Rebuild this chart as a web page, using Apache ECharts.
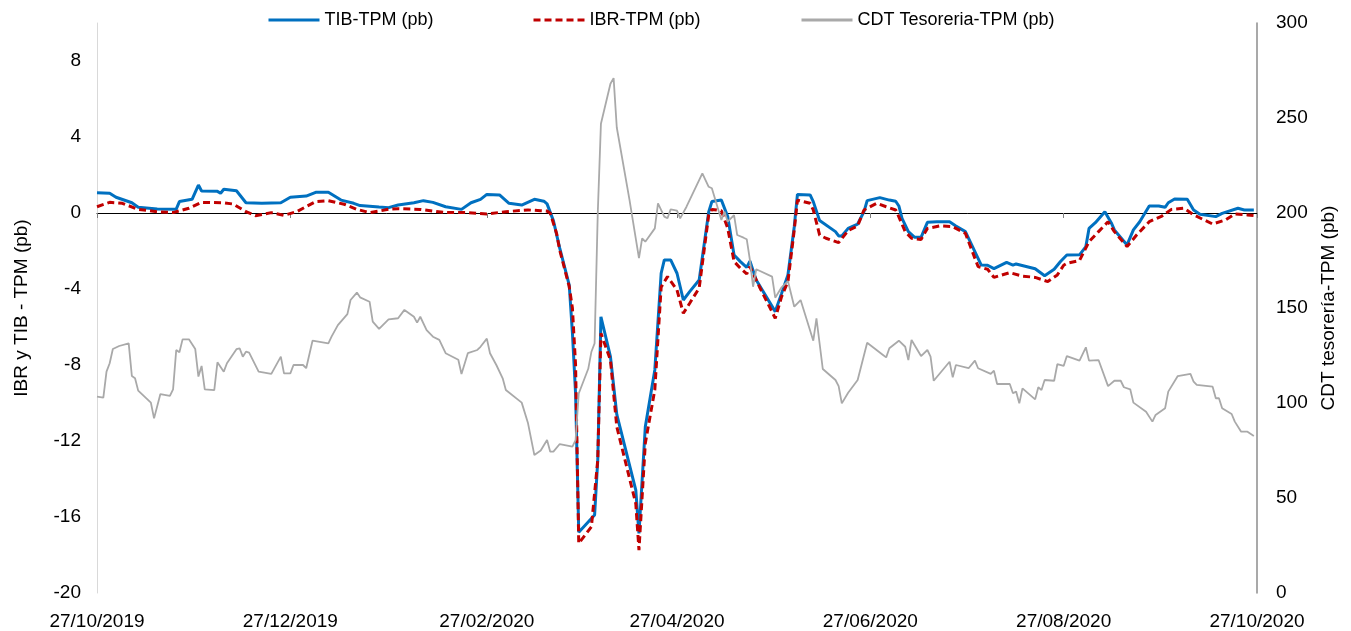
<!DOCTYPE html>
<html>
<head>
<meta charset="utf-8">
<script src="https://cdn.jsdelivr.net/npm/echarts@6/dist/echarts.min.js"></script>
<style>
html,body{margin:0;padding:0;background:#fff;}
#chart{width:1351px;height:631px;}
</style>
</head>
<body>
<div id="chart"></div>
<script>
// ---- Data ----
var seriesNames = ['TIB-TPM (pb)', 'IBR-TPM (pb)', 'CDT Tesoreria-TPM (pb)'];
var tickDates = ['2019-10-27','2019-12-27','2020-02-27','2020-04-27','2020-06-27','2020-08-27','2020-10-27'];
var leftTicks = {min: -20, max: 10, interval: 4};
var rightTicks = {min: 0, max: 300, interval: 50};

var tibData = [
['2019-10-27',1.07],['2019-10-31',1.04],['2019-11-02',0.83],['2019-11-07',0.54],['2019-11-09',0.30],
['2019-11-15',0.21],['2019-11-21',0.20],['2019-11-22',0.60],['2019-11-26',0.72],['2019-11-28',1.47],
['2019-11-29',1.16],['2019-12-04',1.14],['2019-12-05',1.04],['2019-12-06',1.25],['2019-12-10',1.17],
['2019-12-13',0.54],['2019-12-18',0.51],['2019-12-24',0.54],['2019-12-27',0.83],['2020-01-01',0.89],
['2020-01-04',1.09],['2020-01-08',1.09],['2020-01-12',0.68],['2020-01-16',0.51],['2020-01-18',0.39],
['2020-01-24',0.31],['2020-01-27',0.28],['2020-01-30',0.42],['2020-02-04',0.54],['2020-02-07',0.65],
['2020-02-10',0.56],['2020-02-14',0.33],['2020-02-19',0.19],['2020-02-22',0.54],['2020-02-25',0.72],
['2020-02-27',0.98],['2020-03-02',0.95],['2020-03-05',0.51],['2020-03-09',0.42],['2020-03-13',0.72],
['2020-03-16',0.62],['2020-03-17',0.48],['2020-03-19',-0.40],['2020-03-21',-1.85],['2020-03-24',-3.80],
['2020-03-25',-6.3],['2020-03-26',-9.5],['2020-03-27',-16.8],['2020-04-01',-15.9],['2020-04-02',-13.0],
['2020-04-03',-5.46],['2020-04-06',-7.56],['2020-04-08',-10.6],['2020-04-14',-14.58],['2020-04-15',-16.86],
['2020-04-17',-11.25],['2020-04-20',-8.26],['2020-04-22',-3.17],['2020-04-23',-2.47],['2020-04-25',-2.47],
['2020-04-27',-3.17],['2020-04-29',-4.58],['2020-05-01',-4.14],['2020-05-04',-3.53],['2020-05-07',0.05],
['2020-05-08',0.60],['2020-05-11',0.68],['2020-05-13',-0.19],['2020-05-15',-2.21],['2020-05-17',-2.56],
['2020-05-19',-2.86],['2020-05-20',-2.53],['2020-05-22',-3.53],['2020-05-28',-5.19],['2020-05-30',-4.23],
['2020-06-01',-3.26],['2020-06-03',-0.72],['2020-06-04',0.98],['2020-06-08',0.95],['2020-06-09',0.60],
['2020-06-11',-0.40],['2020-06-16',-0.98],['2020-06-17',-1.21],['2020-06-18',-1.21],['2020-06-20',-0.81],
['2020-06-23',-0.58],['2020-06-25',0.07],['2020-06-26',0.65],['2020-06-30',0.81],['2020-07-03',0.68],
['2020-07-05',0.62],['2020-07-06',0.37],['2020-07-07',-0.28],['2020-07-09',-0.98],['2020-07-11',-1.28],
['2020-07-13',-1.28],['2020-07-15',-0.49],['2020-07-18',-0.46],['2020-07-22',-0.46],['2020-07-24',-0.68],
['2020-07-27',-0.98],['2020-08-01',-2.74],['2020-08-03',-2.75],['2020-08-05',-2.93],['2020-08-09',-2.60],
['2020-08-11',-2.74],['2020-08-12',-2.68],['2020-08-18',-2.93],['2020-08-21',-3.30],['2020-08-24',-2.96],
['2020-08-26',-2.55],['2020-08-28',-2.21],['2020-09-01',-2.20],['2020-09-03',-1.77],['2020-09-04',-0.81],
['2020-09-06',-0.51],['2020-09-09',0.07],['2020-09-11',-0.51],['2020-09-12',-0.89],['2020-09-16',-1.68],
['2020-09-18',-0.89],['2020-09-20',-0.46],['2020-09-23',0.37],['2020-09-26',0.37],['2020-09-28',0.30],
['2020-09-29',0.54],['2020-10-01',0.74],['2020-10-05',0.72],['2020-10-07',0.16],['2020-10-09',-0.07],
['2020-10-14',-0.19],['2020-10-16',-0.02],['2020-10-21',0.25],['2020-10-23',0.16],['2020-10-26',0.16]
];

var ibrData = [
['2019-10-27',0.33],['2019-10-31',0.56],['2019-11-04',0.51],['2019-11-09',0.19],['2019-11-15',0.07],
['2019-11-20',0.02],['2019-11-25',0.25],['2019-11-29',0.56],['2019-12-06',0.54],['2019-12-09',0.47],
['2019-12-13',0.07],['2019-12-16',-0.14],['2019-12-21',0.02],['2019-12-25',-0.12],['2019-12-29',0.07],
['2020-01-04',0.60],['2020-01-08',0.65],['2020-01-13',0.46],['2020-01-17',0.19],['2020-01-21',0.02],
['2020-01-24',0.10],['2020-01-27',0.20],['2020-01-30',0.23],['2020-02-06',0.19],['2020-02-14',0.02],
['2020-02-21',0.02],['2020-02-27',-0.05],['2020-03-04',0.07],['2020-03-11',0.16],['2020-03-15',0.12],
['2020-03-17',0.10],['2020-03-18',0.00],['2020-03-20',-1.07],['2020-03-21',-1.95],['2020-03-24',-3.88],
['2020-03-25',-5.0],['2020-03-26',-8.0],['2020-03-27',-17.39],['2020-03-31',-16.51],['2020-04-02',-13.0],
['2020-04-03',-6.33],['2020-04-06',-7.74],['2020-04-08',-11.25],['2020-04-14',-15.3],['2020-04-15',-17.74],
['2020-04-17',-12.12],['2020-04-20',-9.3],['2020-04-22',-3.9],['2020-04-24',-3.35],['2020-04-27',-4.05],
['2020-04-29',-5.28],['2020-05-01',-4.75],['2020-05-04',-3.95],['2020-05-07',-0.10],['2020-05-08',0.19],
['2020-05-11',0.12],['2020-05-13',-0.80],['2020-05-15',-2.55],['2020-05-17',-2.91],['2020-05-19',-3.21],
['2020-05-20',-2.82],['2020-05-23',-3.88],['2020-05-28',-5.54],['2020-05-30',-4.40],['2020-06-01',-3.61],
['2020-06-03',-0.89],['2020-06-04',0.68],['2020-06-08',0.51],['2020-06-09',0.16],['2020-06-11',-1.16],
['2020-06-13',-1.33],['2020-06-17',-1.56],['2020-06-20',-0.93],['2020-06-23',-0.68],['2020-06-25',0.16],
['2020-06-29',0.51],['2020-07-02',0.33],['2020-07-05',0.16],['2020-07-06',-0.20],['2020-07-08',-0.98],
['2020-07-10',-1.33],['2020-07-13',-1.39],['2020-07-15',-0.81],['2020-07-19',-0.68],['2020-07-23',-0.72],
['2020-07-27',-1.07],['2020-07-31',-2.82],['2020-08-03',-2.96],['2020-08-05',-3.39],['2020-08-10',-3.14],
['2020-08-14',-3.32],['2020-08-18',-3.39],['2020-08-22',-3.61],['2020-08-25',-3.26],['2020-08-27',-2.75],
['2020-08-28',-2.65],['2020-09-01',-2.50],['2020-09-04',-1.51],['2020-09-07',-0.98],['2020-09-10',-0.46],
['2020-09-12',-0.98],['2020-09-16',-1.77],['2020-09-19',-1.16],['2020-09-23',-0.46],['2020-09-27',-0.16],
['2020-09-30',0.19],['2020-10-04',0.25],['2020-10-07',-0.10],['2020-10-13',-0.58],['2020-10-17',-0.37],
['2020-10-20',-0.05],['2020-10-24',-0.10],['2020-10-27',-0.15]
];

var cdtData = [
['2019-10-27',103.3],['2019-10-29',102.8],['2019-10-30',116.5],['2019-10-31',120.9],['2019-11-01',128.4],
['2019-11-03',130],['2019-11-06',131.4],['2019-11-07',114.2],['2019-11-08',113],['2019-11-09',106.5],
['2019-11-13',100.2],['2019-11-14',91.9],['2019-11-16',104.7],['2019-11-19',103.7],['2019-11-20',107.2],
['2019-11-21',127.9],['2019-11-22',126.7],['2019-11-23',133.5],['2019-11-25',133.5],['2019-11-27',128.4],
['2019-11-28',113.9],['2019-11-29',119.5],['2019-11-30',107.2],['2019-12-03',106.8],['2019-12-04',121.4],
['2019-12-06',116.5],['2019-12-07',120.9],['2019-12-10',128.3],['2019-12-11',128.8],['2019-12-12',124.4],
['2019-12-13',127],['2019-12-14',126.5],['2019-12-17',116.5],['2019-12-21',115.3],['2019-12-24',124.4],
['2019-12-25',115.6],['2019-12-27',115.6],['2019-12-28',120],['2019-12-31',120],['2020-01-01',118.3],
['2020-01-03',132.8],['2020-01-08',131.4],['2020-01-09',134.9],['2020-01-11',141],['2020-01-14',146.8],
['2020-01-15',154.2],['2020-01-17',158.1],['2020-01-18',155.6],['2020-01-21',153.3],['2020-01-22',142.8],
['2020-01-24',139],['2020-01-27',144],['2020-01-30',144.6],['2020-02-01',149],['2020-02-04',145.4],
['2020-02-05',142.3],['2020-02-06',145.4],['2020-02-08',138.4],['2020-02-10',134.9],['2020-02-12',133.2],
['2020-02-14',126.2],['2020-02-18',122.8],['2020-02-19',115.3],['2020-02-21',126.2],['2020-02-24',127.9],
['2020-02-25',129.6],['2020-02-27',133.9],['2020-02-28',126.2],['2020-03-01',120],['2020-03-03',113],
['2020-03-04',106.8],['2020-03-09',100.2],['2020-03-11',89.3],['2020-03-13',72.6],['2020-03-15',75],
['2020-03-17',80.5],['2020-03-18',74.4],['2020-03-19',74.4],['2020-03-21',78.4],['2020-03-25',77],
['2020-03-26',80.5],['2020-03-27',105],['2020-03-30',118],['2020-03-31',127],['2020-04-01',131.4],
['2020-04-02',200],['2020-04-03',247],['2020-04-06',268],['2020-04-07',271],['2020-04-08',245],
['2020-04-12',207],['2020-04-15',176.2],['2020-04-16',186.7],['2020-04-17',184.9],['2020-04-20',191.9],
['2020-04-21',205.1],['2020-04-23',198.1],['2020-04-24',197.2],['2020-04-25',201.9],['2020-04-27',201.2],
['2020-04-28',197.2],['2020-04-30',203.3],['2020-05-05',220.9],['2020-05-07',213.8],['2020-05-08',213],
['2020-05-11',196.3],['2020-05-12',200.7],['2020-05-13',195.4],['2020-05-15',198.9],['2020-05-16',188.4],
['2020-05-18',187],['2020-05-19',186.2],['2020-05-20',175.3],['2020-05-21',161.2],['2020-05-22',170.4],
['2020-05-27',166.5],['2020-05-28',155.4],['2020-05-30',160.9],['2020-06-01',164.2],['2020-06-03',150.7],
['2020-06-05',154.2],['2020-06-09',132.8],['2020-06-10',144.6],['2020-06-12',117.9],['2020-06-16',112.1],
['2020-06-17',108.9],['2020-06-18',99.8],['2020-06-20',105.4],['2020-06-23',112.1],['2020-06-26',131.7],
['2020-07-01',125.3],['2020-07-02',124],['2020-07-03',128.8],['2020-07-06',132.8],['2020-07-08',129.6],
['2020-07-09',122.6],['2020-07-10',133.2],['2020-07-13',124.7],['2020-07-15',127.9],['2020-07-16',124.4],
['2020-07-17',111.7],['2020-07-22',121.7],['2020-07-23',113.5],['2020-07-24',120],['2020-07-28',118.3],
['2020-07-30',122.3],['2020-07-31',118.3],['2020-08-04',115.3],['2020-08-05',117],['2020-08-06',110],
['2020-08-10',110],['2020-08-11',105.1],['2020-08-12',106],['2020-08-13',99.8],['2020-08-14',107.7],
['2020-08-18',101.9],['2020-08-19',108.3],['2020-08-20',106.8],['2020-08-21',112.1],['2020-08-24',111.7],
['2020-08-25',120.4],['2020-08-27',119.5],['2020-08-28',124.7],['2020-09-01',122.3],['2020-09-03',129.3],
['2020-09-04',122.3],['2020-09-07',122.6],['2020-09-10',108.9],['2020-09-12',111.7],['2020-09-14',111.7],
['2020-09-15',108.3],['2020-09-17',107.2],['2020-09-18',100.2],['2020-09-22',95.4],['2020-09-24',90.2],
['2020-09-25',93.7],['2020-09-28',97.2],['2020-09-29',106],['2020-10-02',114.2],['2020-10-06',115.3],
['2020-10-07',111.2],['2020-10-08',109.5],['2020-10-13',108.6],['2020-10-14',102.5],['2020-10-15',102.5],
['2020-10-16',97.2],['2020-10-19',94.2],['2020-10-20',90.2],['2020-10-22',84.9],['2020-10-24',84.9],
['2020-10-26',82.6]
];

// ---- Helpers ----
function toTs(s) {
  var p = s.split('-');
  return Date.UTC(+p[0], +p[1] - 1, +p[2]);
}
function pad(n) { return (n < 10 ? '0' : '') + n; }
function fmtDate(v) {
  var d = new Date(Math.round(v / 86400000) * 86400000);
  return pad(d.getUTCDate()) + '/' + pad(d.getUTCMonth() + 1) + '/' + d.getUTCFullYear();
}
function conv(arr) { return arr.map(function (p) { return [toTs(p[0]), p[1]]; }); }

var tickTs = tickDates.map(toTs);
var xMin = tickTs[0], xMax = tickTs[tickTs.length - 1];
var FONT = "'Liberation Sans', Arial, sans-serif";

function legendAt(name, left, color, dash) {
  return {
    data: [name], left: left, top: 11, padding: 0,
    itemWidth: 51, itemHeight: 14, itemGap: 5,
    itemStyle: {opacity: 0},
    lineStyle: {color: color, width: 3, type: dash || 'solid'},
    textStyle: {fontSize: 18, color: '#000', fontFamily: FONT}
  };
}

var chart = echarts.init(document.getElementById('chart'), null, {renderer: 'canvas'});
chart.setOption({
  animation: false,
  backgroundColor: '#fff',
  textStyle: {fontFamily: FONT, color: '#000'},
  grid: {left: 97, right: 94, top: 23, bottom: 38, containLabel: false},
  legend: [
    legendAt(seriesNames[0], 267, '#0070c0'),
    legendAt(seriesNames[1], 532, '#c00000', [7, 4]),
    legendAt(seriesNames[2], 800, '#a9a9a9')
  ],
  xAxis: [
    {
      type: 'value', min: xMin, max: xMax, position: 'bottom',
      axisLine: {show: true, onZero: true, onZeroAxisIndex: 0, lineStyle: {color: '#000', width: 1}},
      axisTick: {show: true, length: 5, customValues: tickTs, lineStyle: {color: '#7f7f7f', width: 1}},
      axisLabel: {show: false},
      splitLine: {show: false}
    },
    {
      type: 'value', min: xMin, max: xMax, position: 'bottom',
      axisLine: {show: false, onZero: false},
      axisTick: {show: false},
      axisLabel: {show: true, customValues: tickTs, margin: 19, fontSize: 19, color: '#000',
                  fontFamily: FONT, formatter: function (v) { return fmtDate(v); }},
      splitLine: {show: false}
    }
  ],
  yAxis: [
    {
      type: 'value', position: 'left', min: leftTicks.min, max: leftTicks.max, interval: leftTicks.interval,
      name: 'IBR y TIB - TPM (pb)', nameLocation: 'middle', nameRotate: 90, nameGap: 66,
      nameTextStyle: {fontSize: 19, color: '#000', fontFamily: FONT},
      axisLine: {show: true, onZero: false, lineStyle: {color: '#d9d9d9', width: 1}},
      axisTick: {show: false},
      axisLabel: {fontSize: 19, color: '#000', margin: 16, showMaxLabel: false, fontFamily: FONT},
      splitLine: {show: false}
    },
    {
      type: 'value', position: 'right', min: rightTicks.min, max: rightTicks.max, interval: rightTicks.interval,
      name: 'CDT tesorería-TPM (pb)', nameLocation: 'middle', nameRotate: 90, nameGap: 62,
      nameTextStyle: {fontSize: 19, color: '#000', fontFamily: FONT},
      axisLine: {show: true, onZero: false, lineStyle: {color: '#8c8c8c', width: 1.5}},
      axisTick: {show: false},
      axisLabel: {fontSize: 19, color: '#000', margin: 19, fontFamily: FONT},
      splitLine: {show: false}
    }
  ],
  series: [
    {
      name: seriesNames[0], type: 'line', xAxisIndex: 0, yAxisIndex: 0, data: conv(tibData),
      symbol: 'none', z: 2,
      lineStyle: {color: '#0070c0', width: 3},
      itemStyle: {color: '#0070c0'}
    },
    {
      name: seriesNames[1], type: 'line', xAxisIndex: 0, yAxisIndex: 0, data: conv(ibrData),
      symbol: 'none', z: 3,
      lineStyle: {color: '#c00000', width: 3, type: [7, 4]},
      itemStyle: {color: '#c00000'}
    },
    {
      name: seriesNames[2], type: 'line', xAxisIndex: 0, yAxisIndex: 1, data: conv(cdtData),
      symbol: 'none', z: 4,
      lineStyle: {color: '#a9a9a9', width: 1.8},
      itemStyle: {color: '#a9a9a9'}
    }
  ]
});
</script>
</body>
</html>
